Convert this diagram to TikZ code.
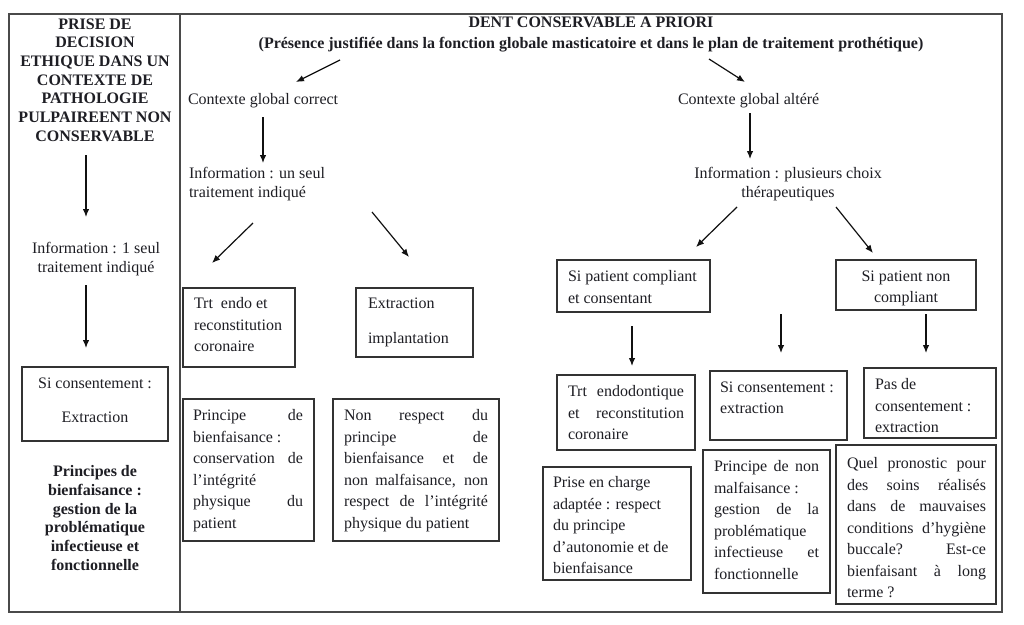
\documentclass[tikz,border=0pt]{standalone}
\usepackage{fontspec}
\setmainfont{Liberation Serif}
\usetikzlibrary{arrows.meta}
\definecolor{txtc}{HTML}{1E1E24}
\definecolor{boxc}{HTML}{333333}
\definecolor{framec}{HTML}{4A4A4A}
\definecolor{arrc}{HTML}{111111}
\newcommand\J[2]{\makebox[#1][s]{#2}}
\begin{document}
\begin{tikzpicture}[x=1pt,y=-1pt,
  every node/.style={inner sep=0pt, outer sep=0pt, text=txtc},
  txt/.style={font=\fontsize{16}{18.5}\selectfont, align=left, anchor=north west},
  ctxt/.style={font=\fontsize{16}{18.5}\selectfont, align=center, anchor=north},
  btxt/.style={font=\fontsize{16}{21.5}\selectfont, align=left, anchor=north west},
  boldc/.style={font=\bfseries\fontsize{16}{18.7}\selectfont, align=center, anchor=north},
  box/.style={draw=boxc, line width=1.1pt, anchor=north west},
  arr/.style={draw=arrc, line width=1.2pt, -{Latex[length=8pt,width=6.5pt]}},
  frame/.style={draw=framec, line width=1.3pt}]
\useasboundingbox (0,0) rectangle (1024,624);
\fill[white] (0,0) rectangle (1024,624);

% frame
\draw[frame] (9,14) rectangle (1002,612);
\draw[frame] (180,14) -- (180,612);

% ---------- left column ----------
\node[boldc] (tL1) at (95,18.5) {PRISE DE\\DECISION\\ETHIQUE DANS UN\\CONTEXTE DE\\PATHOLOGIE\\PULPAIREENT NON\\CONSERVABLE};
\node[ctxt] (tL2) at (96,242.5) {Information : 1 seul\\traitement indiqué};
\node[box, minimum width=146pt, minimum height=74pt] (b1) at (22,367) {};
\node[font=\fontsize{16}{34}\selectfont, align=center, anchor=north] (t1) at (95,377.5) {Si consentement :\\Extraction};
\node[boldc] (tL3) at (95,465.5) {Principes de\\bienfaisance :\\gestion de la\\problématique\\infectieuse et\\fonctionnelle};

\coordinate (a1s) at (86,155); \coordinate (a1e) at (86,217);
\coordinate (a2s) at (86,285); \coordinate (a2e) at (86,348);
\draw[arr] (a1s) -- (a1e);
\draw[arr] (a2s) -- (a2e);

% ---------- title ----------
\node[font=\bfseries\fontsize{16}{21}\selectfont, align=center, anchor=north] (tT) at (591,16.5) {DENT CONSERVABLE A PRIORI\\(Présence justifiée dans la fonction globale masticatoire et dans le plan de traitement prothétique)};

% ---------- middle (contexte correct) ----------
\node[txt] (tCA) at (188,93.5) {Contexte global correct};
\node[txt] (tIA) at (189,167.5) {Information : un seul\\traitement indiqué};

\node[box, minimum width=112pt, minimum height=79pt] (b2) at (183,288) {};
\node[btxt] (t2) at (194,297.5) {Trt\ \ endo et\\reconstitution\\coronaire};
\node[box, minimum width=117pt, minimum height=69pt] (b3) at (356,288) {};
\node[font=\fontsize{16}{35}\selectfont, align=left, anchor=north west] (t3) at (368,297.5) {Extraction\\implantation};

\node[box, minimum width=131pt, minimum height=142pt] (b4) at (183,399) {};
\node[btxt] (t4) at (193,409.5) {\J{110pt}{Principe de}\\bienfaisance :\\\J{110pt}{conservation de}\\l’intégrité\\\J{110pt}{physique du}\\patient};
\node[box, minimum width=166pt, minimum height=142pt] (b5) at (333,399) {};
\node[btxt] (t5) at (344,409.5) {\J{144pt}{Non respect du}\\\J{144pt}{principe de}\\\J{144pt}{bienfaisance et de}\\\J{144pt}{non malfaisance, non}\\\J{144pt}{respect de l’intégrité}\\physique du patient};

% ---------- right (contexte altere) ----------
\node[txt] (tCB) at (678,93.5) {Contexte global altéré};
\node[ctxt] (tIB) at (788,167.5) {Information : plusieurs choix\\thérapeutiques};

\node[box, minimum width=153pt, minimum height=52pt] (b6) at (557,260) {};
\node[btxt] (t6) at (568,270.5) {Si patient compliant\\et consentant};
\node[box, minimum width=140pt, minimum height=50pt] (b7) at (836,260) {};
\node[font=\fontsize{16}{21.5}\selectfont, align=center, anchor=north] (t7) at (906,270.5) {Si patient non\\compliant};

\node[box, minimum width=138pt, minimum height=75pt] (b8) at (557,375) {};
\node[btxt] (t8) at (568,385.5) {\J{116pt}{Trt endodontique}\\\J{116pt}{et reconstitution}\\coronaire};
\node[box, minimum width=137pt, minimum height=69pt] (b9) at (710,371) {};
\node[btxt] (t9) at (720,381.5) {Si consentement :\\extraction};
\node[box, minimum width=132pt, minimum height=70pt] (b10) at (864,368) {};
\node[btxt] (t10) at (875,378.5) {Pas de\\consentement :\\extraction};

\node[box, minimum width=148pt, minimum height=113pt] (b11) at (543,467) {};
\node[btxt] (t11) at (553,476.5) {Prise en charge\\adaptée : respect\\du principe\\d’autonomie et de\\bienfaisance};
\node[box, minimum width=127pt, minimum height=143pt] (b12) at (703,450) {};
\node[btxt] (t12) at (714,460.5) {\J{105pt}{Principe de non}\\malfaisance :\\\J{105pt}{gestion de la}\\problématique\\\J{105pt}{infectieuse et}\\fonctionnelle};
\node[box, minimum width=160pt, minimum height=159pt] (b13) at (836,445) {};
\node[btxt] (t13) at (847,457.5) {\J{139pt}{Quel pronostic pour}\\\J{139pt}{des soins réalisés}\\\J{139pt}{dans de mauvaises}\\\J{139pt}{conditions d’hygiène}\\\J{139pt}{buccale? Est-ce}\\\J{139pt}{bienfaisant à long}\\terme ?};

% ---------- arrows ----------
\coordinate (a3s) at (340,60);  \coordinate (a3e) at (296,82);
\coordinate (a4s) at (709,59);  \coordinate (a4e) at (745,82);
\coordinate (a5s) at (263,117); \coordinate (a5e) at (263,163);
\coordinate (a6s) at (253,223); \coordinate (a6e) at (212,263);
\coordinate (a7s) at (372,212); \coordinate (a7e) at (409,257);
\coordinate (a8s) at (750,113); \coordinate (a8e) at (750,159);
\coordinate (a9s) at (737,207); \coordinate (a9e) at (696,247);
\coordinate (a10s) at (836,207); \coordinate (a10e) at (873,253);
\coordinate (a11s) at (632,326); \coordinate (a11e) at (632,366);
\coordinate (a12s) at (781,314); \coordinate (a12e) at (781,353);
\coordinate (a13s) at (926,314); \coordinate (a13e) at (926,353);
\foreach \i in {3,...,13} {\draw[arr] (a\i s) -- (a\i e);}
\end{tikzpicture}
\end{document}
